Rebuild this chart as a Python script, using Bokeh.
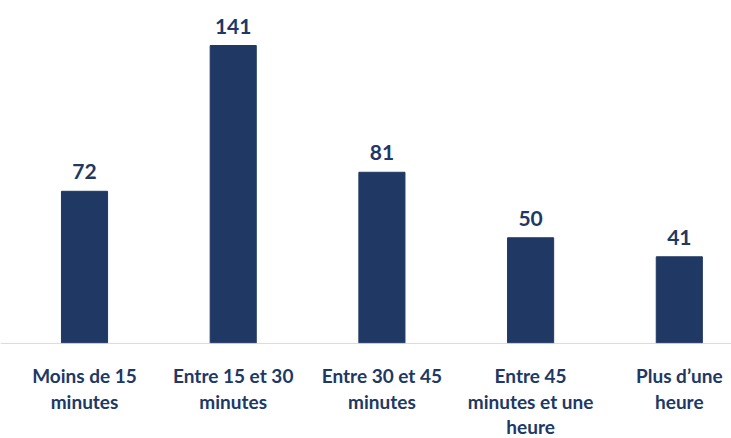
from bokeh.plotting import figure
from bokeh.models import Range1d, Span, ColumnDataSource
from bokeh.core.properties import value
from bokeh.embed import file_html
from bokeh.resources import INLINE

categories = ["Moins de 15\nminutes", "Entre 15 et 30\nminutes", "Entre 30 et 45\nminutes",
              "Entre 45\nminutes et une\nheure", "Plus d\u2019une\nheure"]
values = [72, 141, 81, 50, 41]

NAVY = "#203864"
FONT = "Lato"

xs = list(range(len(categories)))
src = ColumnDataSource(dict(x=xs, top=values, lab=[str(v) for v in values], cat=categories,
                            cy=[0] * len(values)))

p = figure(width=731, height=438, output_backend="svg", toolbar_location=None,
           x_range=Range1d(-0.565, 4.351), y_range=Range1d(-45, 162.3),
           min_border_left=0, min_border_right=0, min_border_top=0, min_border_bottom=0)
p.axis.visible = False
p.grid.visible = False
p.outline_line_color = None
p.background_fill_color = "white"

p.vbar(x="x", top="top", width=0.31, bottom=0, source=src, fill_color=NAVY, line_color=NAVY)
p.add_layout(Span(location=0, dimension="width", line_color="#d9d9d9", line_width=1))

p.text(x="x", y="top", text="lab", source=src, text_align="center", text_baseline="bottom",
       y_offset=-12, text_font=value(FONT), text_font_style="bold", text_font_size="21px",
       text_color=NAVY)
p.text(x="x", y="cy", text="cat", source=src, text_align="center", text_baseline="top",
       y_offset=21, text_font=value(FONT), text_font_style="bold", text_font_size="19px",
       text_color=NAVY, text_line_height=1.1)

open("out.html", "w").write(file_html(p, INLINE))
